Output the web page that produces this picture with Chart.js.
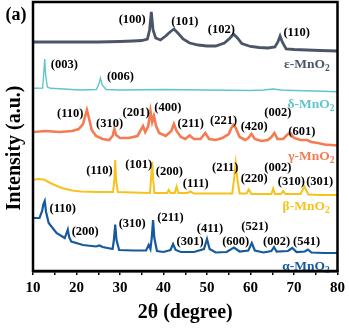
<!DOCTYPE html>
<html>
<head>
<meta charset="utf-8">
<script src="https://cdn.jsdelivr.net/npm/chart.js@4.4.1/dist/chart.umd.min.js"></script>
<style>
  html, body { margin: 0; padding: 0; background: #fff; }
  #wrap { width: 349px; height: 329px; }
</style>
</head>
<body>
<div id="wrap"><canvas id="xrd"></canvas></div>
<script>
// 2θ positions (degree) and intensity (a.u., stacked offsets) for each sample
const epsTheta = [10, 15, 20, 25, 30, 33, 35, 36.3, 36.8, 37.2, 37.6, 38.2, 39.3, 40.5, 41.5, 42.4, 43.3, 44.5, 46, 48, 50, 52, 54, 55.3, 56.1, 57, 58, 60, 62, 64, 65.6, 66.3, 66.8, 67.3, 68.2, 70, 73, 76, 80];
const epsInt = [229, 229, 229, 229, 229.5, 230, 230.5, 232, 241, 259, 241, 233, 231, 235, 239, 242, 238, 232, 228, 226, 225, 225, 228, 233, 237, 233, 227.5, 224.5, 223.5, 223, 224, 229, 235, 229, 222, 221.5, 221, 220.5, 220];

const deltaTheta = [10, 12.2, 12.5, 12.7, 12.9, 13.3, 14, 17, 20.7, 24.6, 25.2, 25.5, 25.9, 26.8, 30, 40, 50, 60, 63, 65.2, 67, 70, 75, 80];
const deltaInt = [182.7, 183, 199, 212, 196, 184, 182.7, 182, 181, 181.5, 188, 193, 186, 181.5, 181, 181.5, 181, 180.5, 181, 182, 181, 180.5, 180, 179.3];

const gammaTheta = [10, 13, 16, 19, 20.5, 21.5, 22, 22.4, 22.8, 23.5, 24.5, 26, 27.5, 28.3, 28.7, 29.1, 30, 32, 34, 35.3, 35.8, 36.5, 37, 37.4, 37.8, 38.3, 39, 40.5, 41.8, 42.4, 43, 44, 45, 46, 47, 48.5, 49.6, 50.5, 52, 53.5, 55, 55.6, 56.1, 56.6, 57.5, 58.8, 59.5, 60.2, 61, 62.5, 64, 64.8, 65.5, 66.2, 67.5, 68.6, 69.2, 70, 71.5, 73, 74, 75.5, 77, 80];
const gammaInt = [139, 140, 139, 140, 142, 147, 155, 161, 154, 141, 135, 132, 131, 135, 142, 136, 133, 133, 135, 145, 139, 145, 160, 149, 155, 145, 138, 135, 140, 147, 140, 134, 132, 135.5, 132, 132, 138, 132, 131, 133, 137, 143, 146, 143, 134, 131, 133, 137, 132, 130, 131, 134, 138, 132, 132, 137, 138, 133, 131, 131, 129, 128, 126.5, 125.5];

const betaTheta = [10, 11, 12.5, 14, 15.5, 17, 19, 21, 25, 28.4, 28.7, 28.9, 29.1, 29.5, 33, 36.9, 37.2, 37.4, 37.6, 37.9, 40.8, 41.2, 41.6, 42.6, 43, 43.4, 45.5, 46.2, 47, 50, 55.8, 56.2, 56.6, 57, 57.5, 59.1, 59.6, 60.2, 64.8, 65.2, 65.6, 67, 67.5, 68, 71.5, 72.4, 73.3, 76, 80];
const betaInt = [91, 92, 91.5, 88, 85, 82.5, 80.5, 79.5, 79, 79, 91, 111, 91, 79, 78.5, 78, 96, 109.3, 93, 78, 78, 81, 78, 78, 84.5, 78, 78, 79.5, 77.5, 77.5, 77.5, 91, 108, 91, 77.5, 77.5, 81.5, 77, 77, 82.5, 77, 77, 80, 77, 77, 84.5, 76.5, 76, 76];

const alphaTheta = [10, 11.5, 12.1, 12.4, 12.7, 13, 13.6, 15.4, 17.3, 17.8, 18, 18.3, 18.8, 21.5, 24.5, 25.3, 26, 28.3, 28.6, 28.9, 29.2, 29.8, 33, 36, 36.6, 37, 37.3, 37.6, 37.9, 38.5, 40, 41.6, 42.2, 42.8, 44, 47, 49.3, 50, 50.6, 52, 54.5, 56.2, 57.5, 59.5, 60.3, 61, 63, 64.8, 65.4, 66, 68.6, 69.6, 70.6, 72.5, 73.2, 74, 77, 80];
const alphaInt = [53, 53, 60, 67, 70, 59, 48, 38, 33, 39, 41.5, 34, 29.5, 26, 24.5, 25.5, 24, 22, 31, 46.5, 31, 21, 20.5, 20.5, 26, 22, 33, 51, 33, 20, 19, 21, 27, 21, 19, 19, 22, 32, 22, 18.5, 19, 23.5, 19.5, 20.5, 28, 20.5, 18.5, 20, 24, 19.5, 20, 23, 19, 19.5, 21.5, 18.5, 18, 18];

// hkl labels: [2θ, intensity, text]
const epsPeaks = [[32.8, 251, "(100)"], [44.9, 249, "(101)"], [53.3, 241, "(102)"], [70.6, 238, "(110)"]];
const deltaPeaks = [[17.2, 206, "(003)"], [30.1, 194, "(006)"]];
const gammaPeaks = [[18.55, 157, "(110)"], [27.6, 147, "(310)"], [33.7, 158, "(201)"], [41.0, 163, "(400)"], [46.25, 147, "(211)"], [53.8, 150, "(221)"], [60.85, 144, "(420)"], [66.3, 158, "(002)"], [71.8, 139.3, "(601)"]];
const betaPeaks = [[25.3, 100, "(110)"], [34.3, 106, "(101)"], [41.35, 99.3, "(200)"], [47.4, 87, "(111)"], [54.2, 103, "(211)"], [60.85, 92, "(220)"], [66.3, 103, "(002)"], [69.4, 89.3, "(310)"], [75.9, 89, "(301)"]];
const alphaPeaks = [[16.85, 62, "(110)"], [22.0, 39, "(200)"], [32.8, 47, "(310)"], [41.6, 53, "(211)"], [46.1, 29, "(301)"], [50.7, 42, "(411)"], [56.6, 29, "(600)"], [61.0, 44, "(521)"], [66.0, 29, "(002)"], [72.9, 29, "(541)"]];

// phase names: [right edge 2θ, intensity, prefix]
const phaseNames = [[78.2, 206, "ε-MnO"], [79.3, 166, "δ-MnO"], [79.3, 114, "γ-MnO"], [78.2, 64.5, "β-MnO"], [78.2, 4, "α-MnO"]];

const colors = ["#4a5568", "#5fc6c9", "#f47b52", "#f6c21c", "#15599f"];
const serif = "'Liberation Serif', 'Times New Roman', serif";

function toPoints(xs, ys) {
    return xs.map((x, i) => ({ x: x, y: ys[i] }));
}

// 🔹 Beschriftungen, Rahmen und y-Titel
const labelPlugin = {
    id: "labels",
    afterDraw(chart) {
        const ctx = chart.ctx;
        const xs = chart.scales.x, ys = chart.scales.y;
        const area = chart.chartArea;
        ctx.save();

        // hkl
        ctx.fillStyle = "#000";
        ctx.font = "bold 12.5px " + serif;
        ctx.textAlign = "center";
        ctx.textBaseline = "middle";
        [epsPeaks, deltaPeaks, gammaPeaks, betaPeaks, alphaPeaks].forEach(list => {
            list.forEach(p => ctx.fillText(p[2], xs.getPixelForValue(p[0]), ys.getPixelForValue(p[1])));
        });

        // phase names with subscript
        phaseNames.forEach((p, i) => {
            const big = "bold 13.5px " + serif, small = "bold 9.5px " + serif;
            ctx.font = big;
            const w1 = ctx.measureText(p[2]).width;
            ctx.font = small;
            const w2 = ctx.measureText("2").width;
            const right = xs.getPixelForValue(p[0]);
            const y = ys.getPixelForValue(p[1]);
            ctx.fillStyle = colors[i];
            ctx.textAlign = "left";
            ctx.font = big;
            ctx.fillText(p[2], right - w1 - w2, y);
            ctx.font = small;
            ctx.fillText("2", right - w2, y + 4);
        });

        // Rahmen
        ctx.strokeStyle = "#000";
        ctx.lineWidth = 2.5;
        ctx.strokeRect(area.left, area.top, area.right - area.left, area.bottom - area.top);

        // y-Titel
        ctx.fillStyle = "#000";
        ctx.font = "bold 20px " + serif;
        ctx.textAlign = "center";
        ctx.translate(15, 148);
        ctx.rotate(-Math.PI / 2);
        ctx.fillText("Intensity (a.u.)", 0, 0);
        ctx.restore();

        ctx.save();
        ctx.fillStyle = "#000";
        ctx.font = "bold 18px " + serif;
        ctx.textAlign = "center";
        ctx.textBaseline = "middle";
        ctx.fillText("(a)", 16, 15);
        ctx.restore();
    }
};

const seriesData = [
    toPoints(epsTheta, epsInt),
    toPoints(deltaTheta, deltaInt),
    toPoints(gammaTheta, gammaInt),
    toPoints(betaTheta, betaInt),
    toPoints(alphaTheta, alphaInt)
];
const widths = [2.8, 1.4, 2.6, 2, 2.2];

new Chart(document.getElementById("xrd"), {
    type: "line",
    data: {
        datasets: seriesData.map((d, i) => ({
            data: d,
            borderColor: colors[i],
            borderWidth: widths[i],
            pointRadius: 0,
            tension: 0,
            fill: false
        }))
    },
    options: {
        responsive: true,
        maintainAspectRatio: false,
        animation: false,
        layout: { padding: { left: 33, top: 2, right: 9, bottom: 0 } },
        plugins: { legend: { display: false }, tooltip: { enabled: false } },
        scales: {
            x: {
                type: "linear",
                min: 10,
                max: 80,
                afterFit: s => { s.height = 58; },
                ticks: {
                    stepSize: 5,
                    autoSkip: false,
                    maxRotation: 0,
                    padding: 4,
                    color: "#000",
                    font: { family: serif, size: 15, weight: "bold" },
                    callback: v => (v % 10 === 0 ? v : "")
                },
                grid: { drawOnChartArea: false, drawTicks: true, tickLength: 4, color: "#000", lineWidth: 1.5 },
                border: { color: "#000", width: 2.5 },
                title: {
                    display: true,
                    text: "2θ (degree)",
                    color: "#000",
                    font: { family: serif, size: 20, weight: "bold" },
                    padding: { top: 0, bottom: 4 }
                }
            },
            y: { display: false, min: 0, max: 269 }
        }
    },
    plugins: [labelPlugin]
});
</script>
</body>
</html>
